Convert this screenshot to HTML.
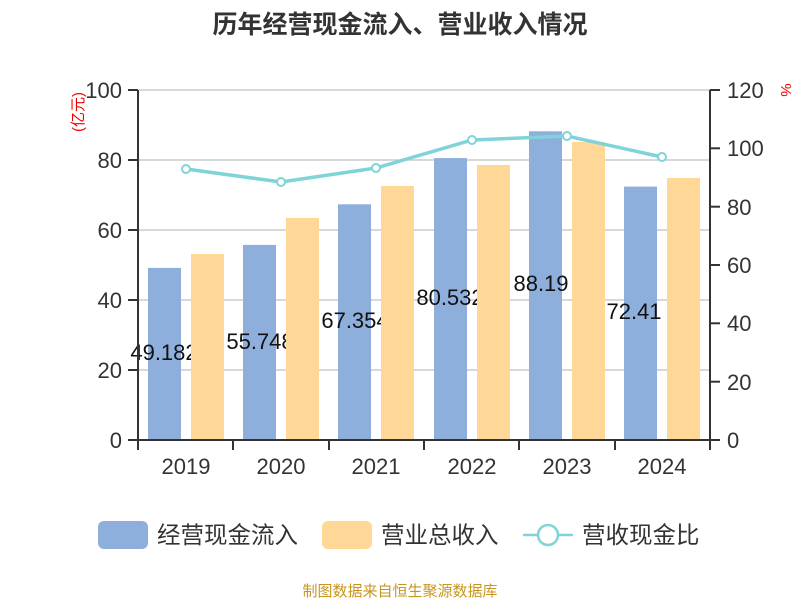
<!DOCTYPE html>
<html><head><meta charset="utf-8"><style>
body{margin:0;background:#fff;}
svg text{font-family:"Liberation Sans","Noto Sans CJK SC",sans-serif;}
</style></head><body>
<svg width="800" height="600" xmlns="http://www.w3.org/2000/svg">
<rect width="800" height="600" fill="#fff"/>
<text x="400" y="33" text-anchor="middle" font-size="25" font-weight="bold" fill="#333">历年经营现金流入、营业收入情况</text>
<g stroke="#ccc" stroke-width="1.5">
<line x1="139" y1="90" x2="710" y2="90"/>
<line x1="139" y1="160" x2="710" y2="160"/>
<line x1="139" y1="230" x2="710" y2="230"/>
<line x1="139" y1="300" x2="710" y2="300"/>
<line x1="139" y1="370" x2="710" y2="370"/>
</g>
<g fill="#8eaedb">
<rect x="148" y="267.9" width="33" height="172.1"/>
<rect x="243" y="244.9" width="33" height="195.1"/>
<rect x="338" y="204.3" width="33" height="235.7"/>
<rect x="434" y="158.1" width="33" height="281.9"/>
<rect x="529" y="131.3" width="33" height="308.7"/>
<rect x="624" y="186.6" width="33" height="253.4"/>
</g>
<g font-size="22" fill="#111" text-anchor="middle">
<text x="164" y="360">49.182</text>
<text x="260" y="349">55.748</text>
<text x="355" y="328">67.354</text>
<text x="450" y="305">80.532</text>
<text x="541" y="291">88.19</text>
<text x="634" y="319">72.41</text>
</g>
<g fill="#ffd796">
<rect x="191" y="254" width="33" height="186"/>
<rect x="286" y="218" width="33" height="222"/>
<rect x="381" y="186" width="33" height="254"/>
<rect x="477" y="165" width="33" height="275"/>
<rect x="572" y="142" width="33" height="298"/>
<rect x="667" y="178" width="33" height="262"/>
</g>
<polyline points="186,169 281,182 376,168 472,140 567,136 662,157" fill="none" stroke="#80d4d8" stroke-width="3.5"/>
<g fill="#fff" stroke="#80d4d8" stroke-width="2">
<circle cx="186" cy="169" r="4"/><circle cx="281" cy="182" r="4"/><circle cx="376" cy="168" r="4"/>
<circle cx="472" cy="140" r="4"/><circle cx="567" cy="136" r="4"/><circle cx="662" cy="157" r="4"/>
</g>
<g stroke="#333" stroke-width="2">
<line x1="138" y1="90" x2="138" y2="440"/>
<line x1="710" y1="90" x2="710" y2="440"/>
<line x1="138" y1="440" x2="710" y2="440"/>
<line x1="128" y1="90" x2="138" y2="90"/><line x1="128" y1="160" x2="138" y2="160"/><line x1="128" y1="230" x2="138" y2="230"/><line x1="128" y1="300" x2="138" y2="300"/><line x1="128" y1="370" x2="138" y2="370"/><line x1="128" y1="440" x2="138" y2="440"/>
<line x1="710" y1="90" x2="720" y2="90"/><line x1="710" y1="148.3" x2="720" y2="148.3"/><line x1="710" y1="206.7" x2="720" y2="206.7"/><line x1="710" y1="265" x2="720" y2="265"/><line x1="710" y1="323.3" x2="720" y2="323.3"/><line x1="710" y1="381.7" x2="720" y2="381.7"/><line x1="710" y1="440" x2="720" y2="440"/>
<line x1="138" y1="440" x2="138" y2="450"/><line x1="233" y1="440" x2="233" y2="450"/><line x1="329" y1="440" x2="329" y2="450"/><line x1="424" y1="440" x2="424" y2="450"/><line x1="519" y1="440" x2="519" y2="450"/><line x1="615" y1="440" x2="615" y2="450"/><line x1="710" y1="440" x2="710" y2="450"/>
</g>
<g font-size="22" fill="#333" text-anchor="end">
<text x="122" y="98">100</text><text x="122" y="168">80</text><text x="122" y="238">60</text><text x="122" y="308">40</text><text x="122" y="378">20</text><text x="122" y="448">0</text>
</g>
<g font-size="22" fill="#333" text-anchor="start">
<text x="727" y="98">120</text><text x="727" y="156">100</text><text x="727" y="215">80</text><text x="727" y="273">60</text><text x="727" y="331">40</text><text x="727" y="390">20</text><text x="727" y="448">0</text>
</g>
<g font-size="22" fill="#333" text-anchor="middle">
<text x="186" y="474">2019</text><text x="281" y="474">2020</text><text x="376" y="474">2021</text><text x="472" y="474">2022</text><text x="567" y="474">2023</text><text x="662" y="474">2024</text>
</g>
<text transform="translate(83,112) rotate(-90)" font-size="15" fill="#e00" text-anchor="middle">(亿元)</text>
<text transform="translate(781,90) rotate(90)" font-size="15" fill="#e00" text-anchor="middle">%</text>
<rect x="98" y="521" width="50" height="28" rx="6" fill="#8eaedb"/>
<text x="157" y="543" font-size="23.5" fill="#333">经营现金流入</text>
<rect x="322" y="521" width="50" height="28" rx="6" fill="#ffd796"/>
<text x="381" y="543" font-size="23.5" fill="#333">营业总收入</text>
<line x1="523" y1="535" x2="573" y2="535" stroke="#80d4d8" stroke-width="2.5"/>
<circle cx="548" cy="535" r="10" fill="#fff" stroke="#80d4d8" stroke-width="2.5"/>
<text x="582" y="543" font-size="23.5" fill="#333">营收现金比</text>
<text x="400" y="596" text-anchor="middle" font-size="15" fill="#c8961e">制图数据来自恒生聚源数据库</text>
</svg>
</body></html>
